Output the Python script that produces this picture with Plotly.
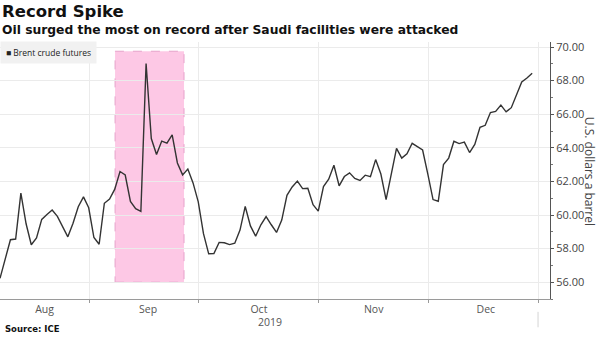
import pandas as pd
import plotly.graph_objects as go

# Brent crude front-month settlements, USD per barrel (trading days only)
aug = [56.23, 57.38, 58.53, 58.57, 61.30, 59.48, 58.23, 58.64, 59.74, 60.03,
       60.30, 59.92, 59.34, 58.70, 59.51, 60.49, 61.08, 60.43]
sep = [58.66, 58.26, 60.70, 60.95, 61.54, 62.59, 62.38, 60.81, 60.38, 60.22,
       69.02, 64.55, 63.60, 64.40, 64.28, 64.77, 63.10, 62.39, 62.74, 61.91,
       60.78]
oct_ = [58.89, 57.69, 57.71, 58.37, 58.35, 58.24, 58.32, 59.10, 60.51, 59.35,
        58.74, 59.42, 59.91, 59.42, 58.96, 59.70, 61.17, 61.67, 62.02, 61.57,
        61.59, 60.61, 60.23]
nov = [61.69, 62.13, 62.96, 61.74, 62.29, 62.51, 62.18, 62.06, 62.37, 62.28,
       63.30, 62.44, 60.91, 62.40, 63.97, 63.39, 63.65, 64.27, 64.06, 63.87,
       62.43]
dec = [60.92, 60.82, 63.00, 63.39, 64.39, 64.25, 64.34, 63.72, 64.20, 65.22,
       65.34, 66.10, 66.17, 66.54, 66.14, 66.39, 67.20, 67.92, 68.16, 68.44]

holidays = ["2019-12-25"]
month_labels = ["Aug", "Sep", "Oct", "Nov", "Dec"]
year_label = "2019"
y_ticks = [56, 58, 60, 62, 64, 66, 68, 70]
series_name = "Brent crude futures"

prices = aug + sep + oct_ + nov + dec
dates = pd.bdate_range("2019-08-07", "2019-12-30", freq="C", holidays=holidays)
assert len(dates) == len(prices)
dates = dates + pd.Timedelta(hours=21)  # settlement time of day

# month boundaries on the gapless trading-day axis, and label centres
month_starts = ["2019-09-02", "2019-10-01", "2019-11-01", "2019-12-02", "2020-01-01"]
label_pos = ["2019-08-20 10:00", "2019-09-17 06:00", "2019-10-16 12:00",
             "2019-11-15 12:00", "2019-12-17 00:00"]

GRID = "#ebebeb"
FONT = "Open Sans"
HEAD = "DejaVu Sans"

fig = go.Figure()
fig.add_trace(go.Scatter(
    x=dates, y=prices, mode="lines", name=series_name,
    line=dict(color="#333333", width=1.4), showlegend=False, hoverinfo="skip",
))

# highlighted attack window
fig.add_shape(type="rect", xref="x", yref="y",
              x0="2019-09-06 22:20", x1="2019-09-26 03:30", y0=56.0, y1=69.75,
              fillcolor="#fdc8e5", line=dict(color="#e6a3cb", width=1, dash="dash"),
              layer="below")

# year divider below the axis
fig.add_shape(type="line", xref="x", yref="paper",
              x0="2020-01-01", x1="2020-01-01", y0=-0.05, y1=-0.11,
              line=dict(color="#d4d4d4", width=1))

fig.update_layout(
    width=600, height=337,
    margin=dict(l=0, r=50, t=42, b=38),
    paper_bgcolor="white", plot_bgcolor="white",
    font=dict(family=FONT, color="#444444"),
    xaxis=dict(
        type="date",
        range=["2019-08-07 21:00", "2020-01-03 07:00"],
        rangebreaks=[dict(bounds=["sat", "mon"]), dict(values=holidays)],
        tickmode="array", tickvals=label_pos, ticktext=month_labels,
        ticks="", showgrid=False, zeroline=False,
        showline=True, linecolor="#9a9a9a", linewidth=1,
        tickfont=dict(size=10.5, color="#555555", family=FONT),
        minor=dict(tickmode="array", tickvals=month_starts, ticks="outside",
                   ticklen=3, tickcolor="#9a9a9a", showgrid=True,
                   gridcolor=GRID, gridwidth=1),
    ),
    yaxis=dict(
        side="right", range=[55.0, 70.3],
        tickmode="array", tickvals=y_ticks, tickformat=".2f",
        ticks="outside", ticklen=3, tickcolor="#555555",
        showline=True, linecolor="#555555", linewidth=1,
        showgrid=True, gridcolor=GRID, gridwidth=1, zeroline=False,
        tickfont=dict(size=11, color="#444444", family=FONT),
        minor=dict(dtick=1, ticks="outside", ticklen=2, tickcolor="#777777",
                   showgrid=False),
    ),
)

fig.add_annotation(text="<b>Record Spike</b>", xref="paper", yref="paper",
                   x=0, y=1.12, xanchor="left", yanchor="middle", showarrow=False,
                   font=dict(size=16.5, color="#111111", family=HEAD))
fig.add_annotation(text="<b>Oil surged the most on record after Saudi facilities were attacked</b>",
                   xref="paper", yref="paper", x=0, y=1.048,
                   xanchor="left", yanchor="middle", showarrow=False,
                   font=dict(size=12.3, color="#111111", family=HEAD))
fig.add_annotation(text="■ " + series_name, xref="paper", yref="paper",
                   x=0, y=1.003, xanchor="left", yanchor="top", showarrow=False,
                   bgcolor="#f1f1f1", borderpad=5,
                   font=dict(size=8.5, color="#222222", family=FONT))
fig.add_annotation(text="U.S. dollars a barrel", xref="paper", yref="paper",
                   x=1.073, y=0.498, xanchor="center", yanchor="middle",
                   textangle=90, showarrow=False,
                   font=dict(size=12, color="#444444", family=FONT))
fig.add_annotation(text=year_label, xref="paper", yref="paper",
                   x=0.491, y=-0.09, xanchor="center", yanchor="middle",
                   showarrow=False, font=dict(size=10.5, color="#555555", family=FONT))
fig.add_annotation(text="<b>Source: ICE</b>", xref="paper", yref="paper",
                   x=0.005, y=-0.117, xanchor="left", yanchor="middle",
                   showarrow=False, font=dict(size=8.5, color="#111111", family=HEAD))

fig.write_html("out.html")
